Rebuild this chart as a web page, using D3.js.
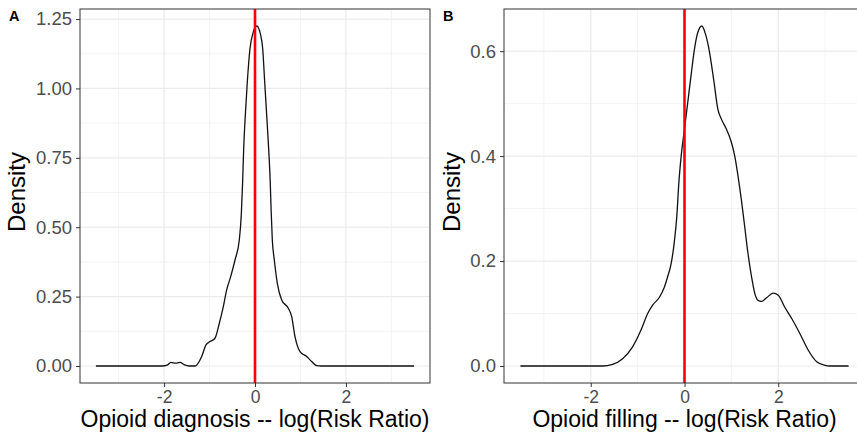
<!DOCTYPE html>
<html>
<head>
<meta charset="utf-8">
<script src="https://cdn.jsdelivr.net/npm/d3@7"></script>
<style>
  html, body { margin: 0; padding: 0; background: #fff; }
  svg { display: block; font-family: "Liberation Sans", Arial, Helvetica, sans-serif; }
</style>
</head>
<body>
<svg id="chart" width="857" height="435"></svg>
<script>
// ---------- DATA ----------
const panelTags = ["A", "B"];
const xTitles = ["Opioid diagnosis -- log(Risk Ratio)", "Opioid filling -- log(Risk Ratio)"];
const yTitle = "Density";

const xTicks = [-2, 0, 2];
const xMinorTicks = [-3, -1, 1, 3];

const yTicksA = [0, 0.25, 0.5, 0.75, 1.0, 1.25];
const yTickLabelsA = ["0.00", "0.25", "0.50", "0.75", "1.00", "1.25"];
const yMinorA = [0.125, 0.375, 0.625, 0.875, 1.125];

const yTicksB = [0, 0.2, 0.4, 0.6];
const yTickLabelsB = ["0.0", "0.2", "0.4", "0.6"];
const yMinorB = [0.1, 0.3, 0.5];

const referenceLine = 0;   // vertical red line at log(RR) = 0

// Panel A density (x = log risk ratio, d = density)
const densityA_x = [-3.5, -2.05, -1.93, -1.85, -1.75, -1.65, -1.55, -1.45, -1.32, -1.28, -1.173, -1.078, -0.99, -0.88, -0.785, -0.697, -0.623, -0.535, -0.44, -0.345, -0.30, -0.272, -0.249, -0.213, -0.169, -0.11, -0.037, 0.037, 0.125, 0.169, 0.213, 0.257, 0.30, 0.335, 0.355, 0.381, 0.425, 0.491, 0.587, 0.733, 0.807, 0.88, 0.99, 1.137, 1.247, 1.357, 1.45, 3.5];
const densityA_y = [0, 0, 0.003, 0.013, 0.010, 0.013, 0.004, 0, 0, 0.004, 0.034, 0.076, 0.088, 0.100, 0.154, 0.214, 0.274, 0.322, 0.382, 0.454, 0.55, 0.664, 0.784, 0.904, 1.024, 1.144, 1.204, 1.225, 1.192, 1.144, 1.024, 0.904, 0.784, 0.664, 0.56, 0.454, 0.382, 0.298, 0.238, 0.208, 0.178, 0.106, 0.052, 0.034, 0.016, 0.001, 0, 0];

// Panel B density
const densityB_x = [-3.5, -1.75, -1.535, -1.32, -1.11, -0.93, -0.785, -0.68, -0.535, -0.43, -0.36, -0.285, -0.214, -0.165, -0.12, -0.07, 0.0, 0.07, 0.14, 0.214, 0.285, 0.37, 0.45, 0.52, 0.63, 0.71, 0.785, 0.89, 0.998, 1.07, 1.14, 1.21, 1.285, 1.355, 1.43, 1.50, 1.57, 1.64, 1.75, 1.89, 2.0, 2.14, 2.29, 2.46, 2.64, 2.82, 3.0, 3.1, 3.5];
const densityB_y = [0, 0, 0.003, 0.014, 0.036, 0.068, 0.100, 0.116, 0.131, 0.150, 0.170, 0.195, 0.239, 0.284, 0.350, 0.401, 0.452, 0.503, 0.554, 0.605, 0.636, 0.648, 0.632, 0.605, 0.541, 0.490, 0.471, 0.452, 0.427, 0.401, 0.363, 0.319, 0.265, 0.214, 0.170, 0.138, 0.125, 0.123, 0.130, 0.139, 0.135, 0.112, 0.090, 0.062, 0.030, 0.008, 0.001, 0, 0];

// ---------- DRAW ----------
const svg = d3.select("#chart");

const panels = [
  { tag: panelTags[0], xTitle: xTitles[0], xs: densityA_x, ys: densityA_y,
    yTicks: yTicksA, yLabels: yTickLabelsA, yMinor: yMinorA,
    left: 80, right: 430, top: 9, bottom: 383, tagX: 9, yTitleX: 25 },
  { tag: panelTags[1], xTitle: xTitles[1], xs: densityB_x, ys: densityB_y,
    yTicks: yTicksB, yLabels: yTickLabelsB, yMinor: yMinorB,
    left: 504, right: 865, top: 9, bottom: 383, tagX: 443, yTitleX: 460 }
];

panels.forEach(p => {
  const xMin = d3.min(p.xs), xMax = d3.max(p.xs);
  const xPad = (xMax - xMin) * 0.05;
  const yMax = d3.max(p.ys);
  const yPad = yMax * 0.05;

  const x = d3.scaleLinear().domain([xMin - xPad, xMax + xPad]).range([p.left, p.right]);
  const y = d3.scaleLinear().domain([-yPad, yMax + yPad]).range([p.bottom, p.top]);

  const g = svg.append("g");

  const clipId = "clip-" + p.tag;
  svg.append("clipPath").attr("id", clipId)
    .append("rect").attr("x", p.left).attr("y", p.top)
    .attr("width", p.right - p.left).attr("height", p.bottom - p.top);

  const inner = g.append("g").attr("clip-path", `url(#${clipId})`);

  // minor grid
  inner.selectAll(".vminor").data(xMinorTicks).join("line")
    .attr("x1", d => x(d)).attr("x2", d => x(d))
    .attr("y1", p.top).attr("y2", p.bottom)
    .attr("stroke", "#ebebeb").attr("stroke-width", 0.6);
  inner.selectAll(".hminor").data(p.yMinor).join("line")
    .attr("x1", p.left).attr("x2", p.right)
    .attr("y1", d => y(d)).attr("y2", d => y(d))
    .attr("stroke", "#ebebeb").attr("stroke-width", 0.6);
  // major grid
  inner.selectAll(".vmajor").data(xTicks).join("line")
    .attr("x1", d => x(d)).attr("x2", d => x(d))
    .attr("y1", p.top).attr("y2", p.bottom)
    .attr("stroke", "#ebebeb").attr("stroke-width", 1.2);
  inner.selectAll(".hmajor").data(p.yTicks).join("line")
    .attr("x1", p.left).attr("x2", p.right)
    .attr("y1", d => y(d)).attr("y2", d => y(d))
    .attr("stroke", "#ebebeb").attr("stroke-width", 1.2);

  // density curve
  const pts = p.xs.map((v, i) => [v, p.ys[i]]);
  const line = d3.line().x(d => x(d[0])).y(d => y(d[1])).curve(d3.curveMonotoneX);
  inner.append("path").datum(pts)
    .attr("d", line)
    .attr("fill", "none").attr("stroke", "#111").attr("stroke-width", 1.3);

  // reference line
  inner.append("line")
    .attr("x1", x(referenceLine)).attr("x2", x(referenceLine))
    .attr("y1", p.top).attr("y2", p.bottom)
    .attr("stroke", "#ff0000").attr("stroke-width", 2.6);

  // panel border
  g.append("rect")
    .attr("x", p.left).attr("y", p.top)
    .attr("width", p.right - p.left).attr("height", p.bottom - p.top)
    .attr("fill", "none").attr("stroke", "#333").attr("stroke-width", 1);

  // axes
  const xAxis = d3.axisBottom(x).tickValues(xTicks).tickFormat(d3.format("d"))
    .tickSize(4).tickSizeOuter(0).tickPadding(3);
  const gx = g.append("g").attr("transform", `translate(0,${p.bottom})`).call(xAxis);
  gx.select(".domain").remove();
  gx.selectAll(".tick line").attr("stroke", "#333").attr("stroke-width", 1);
  gx.selectAll(".tick text").attr("fill", "#4d4d4d").attr("font-size", "17.5px")
    .attr("font-family", "Liberation Sans, Arial, sans-serif")
    .attr("dy", null).attr("y", 19.5).text(d => d < 0 ? "-" + Math.abs(d) : String(d));

  const yAxis = d3.axisLeft(y).tickValues(p.yTicks).tickFormat((d, i) => p.yLabels[i])
    .tickSize(4).tickSizeOuter(0).tickPadding(4);
  const gy = g.append("g").attr("transform", `translate(${p.left},0)`).call(yAxis);
  gy.select(".domain").remove();
  gy.selectAll(".tick line").attr("stroke", "#333").attr("stroke-width", 1);
  gy.selectAll(".tick text").attr("fill", "#4d4d4d").attr("font-size", "18.5px")
    .attr("font-family", "Liberation Sans, Arial, sans-serif");

  // axis titles
  g.append("text")
    .attr("x", (p.left + p.right) / 2).attr("y", 427)
    .attr("text-anchor", "middle").attr("font-size", "23px").attr("fill", "#000")
    .text(p.xTitle);
  g.append("text")
    .attr("transform", `translate(${p.yTitleX},192) rotate(-90)`)
    .attr("text-anchor", "middle").attr("font-size", "24px").attr("fill", "#000")
    .text(yTitle);

  // tag
  g.append("text")
    .attr("x", p.tagX).attr("y", 20.5)
    .attr("font-size", "14.5px").attr("font-weight", "bold").attr("fill", "#000")
    .text(p.tag);
});
</script>
</body>
</html>
